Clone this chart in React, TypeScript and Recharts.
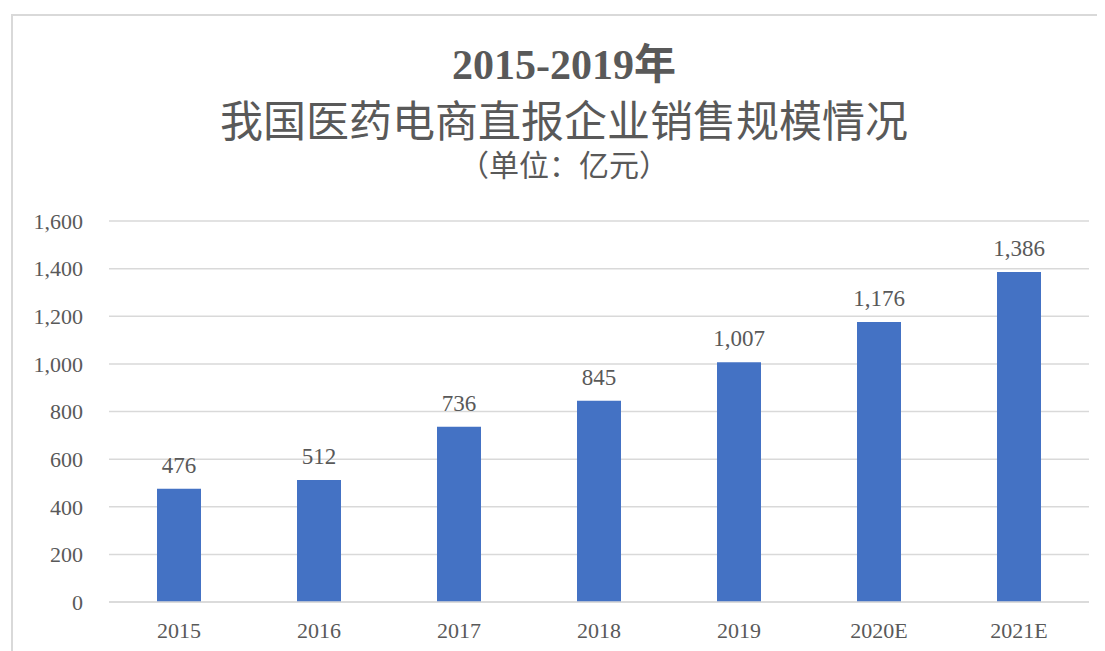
import React from "react";
import { BarChart, Bar, XAxis, YAxis, CartesianGrid, LabelList } from "recharts";

const categories = ["2015", "2016", "2017", "2018", "2019", "2020E", "2021E"];
const salesValues = [476, 512, 736, 845, 1007, 1176, 1386];
const yTicks = [0, 200, 400, 600, 800, 1000, 1200, 1400, 1600];
const titleLines = ["2015-2019年", "我国医药电商直报企业销售规模情况", "（单位：亿元）"];

const data = categories.map((c, i) => ({ name: c, value: salesValues[i] }));

const FONT = "'Liberation Serif', 'Times New Roman', 'Noto Sans CJK SC', serif";
const TEXT = "#595959";
const fmt = (v: number) => v.toLocaleString("en-US");

export default function App() {
  return (
    <div style={{ position: "relative", width: 1097, height: 643, overflow: "hidden", fontFamily: FONT }}>
      <div
        style={{
          position: "absolute",
          left: 3,
          top: 6,
          width: 1200,
          height: 800,
          border: "2px solid #d9d9d9",
          boxSizing: "border-box",
        }}
      />
      <div style={{ position: "absolute", left: 0, width: 1112, top: 35, textAlign: "center", color: TEXT, fontSize: 42, fontWeight: "bold", lineHeight: "44px" }}>
        {titleLines[0]}
      </div>
      <div style={{ position: "absolute", left: 0, width: 1112, top: 92, textAlign: "center", color: TEXT, fontSize: 43, lineHeight: "46px" }}>
        {titleLines[1]}
      </div>
      <div style={{ position: "absolute", left: 0, width: 1112, top: 141, textAlign: "center", color: TEXT, fontSize: 30, lineHeight: "34px" }}>
        {titleLines[2]}
      </div>
      <div style={{ position: "absolute", left: 0, top: 0 }}>
        <BarChart width={1097} height={643} data={data} margin={{ top: 213, right: 16, bottom: 19, left: 0 }}>
          <CartesianGrid horizontal vertical={false} stroke="#d9d9d9" strokeWidth={1.5} />
          <XAxis
            dataKey="name"
            axisLine={{ stroke: "#d9d9d9", strokeWidth: 1.5 }}
            tickLine={false}
            tickSize={0}
            tickMargin={20}
            tick={{ fill: TEXT, fontSize: 22, fontFamily: FONT }}
          />
          <YAxis
            width={101}
            domain={[0, 1600]}
            ticks={yTicks}
            axisLine={false}
            tickLine={false}
            tickSize={0}
            tickMargin={26}
            tickFormatter={fmt}
            tick={{ fill: TEXT, fontSize: 22, fontFamily: FONT }}
          />
          <Bar dataKey="value" fill="#4472C4" barSize={44} isAnimationActive={false}>
            <LabelList dataKey="value" position="top" offset={16} formatter={(v: any) => fmt(Number(v))} style={{ fill: TEXT, fontSize: 23, fontFamily: FONT }} />
          </Bar>
        </BarChart>
      </div>
    </div>
  );
}
